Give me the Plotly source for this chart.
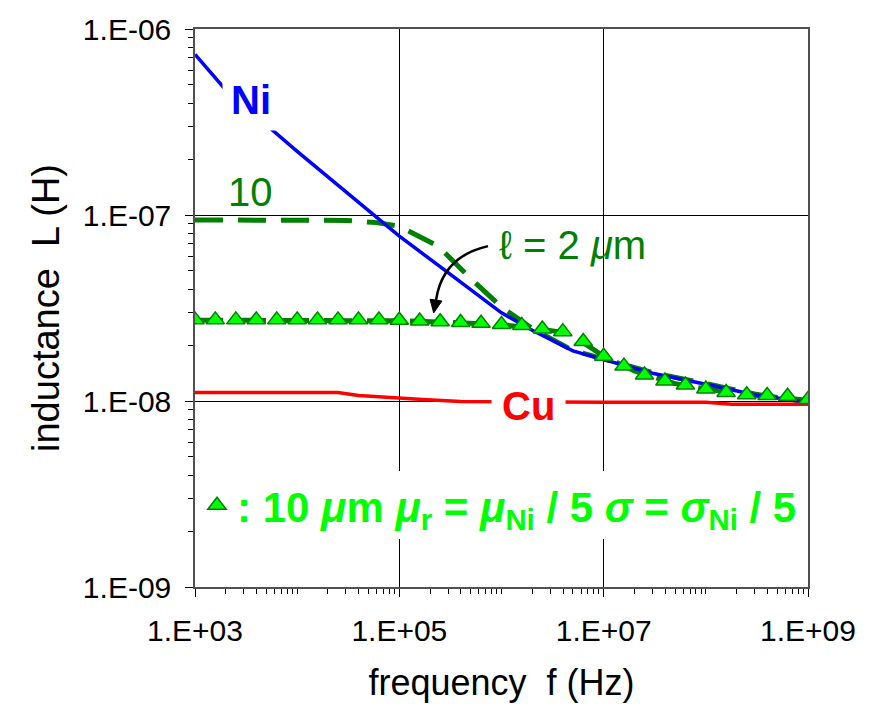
import plotly.graph_objects as go

# ---- data: inductance vs frequency ----
# Ni (bulk)
freq_ni = [1e3, 2e3, 1e4, 1e5, 3e5, 1e6, 2e6, 5e6, 1e7, 3e7, 1e8, 3e8, 1e9]
L_ni = [7.3e-7, 4.7e-7, 2.2e-7, 7.7e-8, 4.9e-8, 2.98e-8, 2.4e-8, 1.86e-8,
        1.67e-8, 1.41e-8, 1.23e-8, 1.08e-8, 9.8e-9]

# Cu
freq_cu = [1e3, 1e4, 2.5e4, 4e4, 1e5, 1.7e5, 4e5, 1e6, 1e7, 1e8, 1.8e8, 1e9]
L_cu = [1.11e-8, 1.11e-8, 1.11e-8, 1.07e-8, 1.045e-8, 1.02e-8, 9.95e-9,
        9.9e-9, 9.85e-9, 9.85e-9, 9.6e-9, 9.6e-9]

# Ni layer, thickness 10 um
freq_10 = [1e3, 1e4, 3e4, 6e4, 1e5, 2.4e5, 5e5, 1e6, 2e6, 5e6, 1e7, 3e7,
           1e8, 3e8, 1e9]
L_10 = [9.4e-8, 9.4e-8, 9.35e-8, 9.1e-8, 8.7e-8, 6.8e-8, 4.55e-8, 3.2e-8,
        2.45e-8, 1.87e-8, 1.68e-8, 1.42e-8, 1.24e-8, 1.09e-8, 9.9e-9]

# Ni layer, thickness 2 um
freq_2 = [1e3, 1e4, 1e5, 3e5, 1e6, 2e6, 4e6, 6e6, 1e7, 2e7, 5e7, 1e8,
          3e8, 1e9]
L_2 = [2.72e-8, 2.72e-8, 2.7e-8, 2.65e-8, 2.57e-8, 2.47e-8, 2.34e-8,
       2.1e-8, 1.74e-8, 1.45e-8, 1.24e-8, 1.16e-8, 1.07e-8, 1.01e-8]

# 10 um layer with mu_r = mu_Ni/5, sigma = sigma_Ni/5
freq_tri = [1.0e3, 1.58e3, 2.51e3, 3.98e3, 6.31e3,
            1.0e4, 1.58e4, 2.51e4, 3.98e4, 6.31e4,
            1.0e5, 1.58e5, 2.51e5, 3.98e5, 6.31e5,
            1.0e6, 1.58e6, 2.51e6, 3.98e6, 6.31e6,
            1.0e7, 1.58e7, 2.51e7, 3.98e7, 6.31e7,
            1.0e8, 1.58e8, 2.51e8, 3.98e8, 6.31e8,
            1.0e9]
L_tri = [2.73e-8, 2.73e-8, 2.73e-8, 2.73e-8, 2.73e-8,
         2.73e-8, 2.73e-8, 2.73e-8, 2.73e-8, 2.73e-8,
         2.72e-8, 2.69e-8, 2.67e-8, 2.64e-8, 2.62e-8,
         2.58e-8, 2.55e-8, 2.44e-8, 2.36e-8, 2.09e-8,
         1.74e-8, 1.54e-8, 1.38e-8, 1.28e-8, 1.22e-8,
         1.16e-8, 1.11e-8, 1.08e-8, 1.07e-8, 1.06e-8,
         1.02e-8]

x_tickvals = [1e3, 1e5, 1e7, 1e9]
x_ticktext = ["1.E+03", "1.E+05", "1.E+07", "1.E+09"]
y_tickvals = [1e-9, 1e-8, 1e-7, 1e-6]
y_ticktext = ["1.E-09", "1.E-08", "1.E-07", "1.E-06"]

# ---- styling ----
W, H = 874, 708
ML, MR, MT, MB = 195, 66, 20, 120
PW, PH = W - ML - MR, H - MT - MB
FONT = "Arial, Liberation Sans, sans-serif"
BLUE, RED, DKGREEN, LIME = "#0000FF", "#FF0000", "#008000", "#00FF00"
DASH = "28px,15px"


def paper(xp, yp):
    """pixel position on the page -> paper coordinates"""
    return (xp - ML) / PW, (H - MB - yp) / PH


fig = go.Figure()

fig.add_trace(go.Scatter(x=freq_10, y=L_10, mode="lines", showlegend=False,
                         line=dict(color=DKGREEN, width=5, dash=DASH)))
fig.add_trace(go.Scatter(x=freq_2, y=L_2, mode="lines", showlegend=False,
                         line=dict(color=DKGREEN, width=5, dash=DASH)))
fig.add_trace(go.Scatter(x=freq_ni, y=L_ni, mode="lines", showlegend=False,
                         line=dict(color=BLUE, width=3.5)))
fig.add_trace(go.Scatter(x=freq_cu, y=L_cu, mode="lines", showlegend=False,
                         line=dict(color=RED, width=3.5)))
fig.add_trace(go.Scatter(
    x=freq_tri, y=L_tri, mode="markers", showlegend=True,
    name=("<b>: 10 <i>μ</i>m <i>μ</i><sub>r</sub> = <i>μ</i><sub>Ni</sub> / 5 "
          "<i>σ</i> = <i>σ</i><sub>Ni</sub> / 5</b>"),
    marker=dict(symbol="triangle-up", size=16, color=LIME,
                line=dict(color=DKGREEN, width=1.5))))

# ---- text labels ----
def label(xp, yp, text, color, size, bold=False, bg=None, pad=0):
    px_, py_ = paper(xp, yp)
    fig.add_annotation(
        x=px_, y=py_, xref="paper", yref="paper", showarrow=False,
        text=f"<b>{text}</b>" if bold else text,
        font=dict(family=FONT, size=size, color=color),
        bgcolor=bg if bg else "rgba(0,0,0,0)", borderpad=pad,
        xanchor="center", yanchor="middle")


label(251, 92, "Ni", BLUE, 40, bold=True, bg="white", pad=8)
label(528, 404, "Cu", RED, 40, bold=True, bg="white", pad=10)
label(250, 186, "10", DKGREEN, 40)
label(572, 240, "ℓ = 2 <i>μ</i>m", DKGREEN, 40)

# curved arrow pointing at the 2 um curve
p0 = paper(488, 241)
c1 = paper(462, 247)
c2 = paper(441, 262)
p1 = paper(436, 296)
fig.add_shape(type="path", xref="paper", yref="paper",
              path=f"M {p0[0]},{p0[1]} C {c1[0]},{c1[1]} {c2[0]},{c2[1]} {p1[0]},{p1[1]}",
              line=dict(color="black", width=2.5))
h0 = paper(433.7, 309)
h1 = paper(441.9, 296.9)
h2 = paper(430.1, 295.1)
fig.add_shape(type="path", xref="paper", yref="paper",
              path=f"M {h0[0]},{h0[1]} L {h1[0]},{h1[1]} L {h2[0]},{h2[1]} Z",
              fillcolor="black", line=dict(color="black", width=1))

lx, ly = paper(197, 505)

axis_common = dict(
    type="log", showline=True, mirror=True, linecolor="#505050", linewidth=1.5,
    showgrid=True, gridcolor="black", gridwidth=1, zeroline=False,
    ticks="outside", ticklen=8, tickcolor="black", tickwidth=1,
    tickfont=dict(family=FONT, size=30, color="black"),
    minor=dict(ticks="outside", ticklen=5, tickcolor="black", dtick="D1",
               showgrid=False),
)

fig.update_layout(
    width=W, height=H,
    margin=dict(l=ML, r=MR, t=MT, b=MB),
    paper_bgcolor="white", plot_bgcolor="white",
    font=dict(family=FONT, color="black"),
    xaxis=dict(axis_common, range=[3, 9], tickmode="array",
               tickvals=x_tickvals, ticktext=x_ticktext, ticklabelstandoff=8,
               title=dict(text="frequency  f (Hz)", standoff=24,
                          font=dict(family=FONT, size=36, color="black"))),
    yaxis=dict(axis_common, range=[-9, -6], tickmode="array",
               tickvals=y_tickvals, ticktext=y_ticktext, ticklabelstandoff=8,
               title=dict(text="inductance  L (H)", standoff=12,
                          font=dict(family=FONT, size=38, color="black"))),
    legend=dict(x=lx, y=ly, xanchor="left", yanchor="middle",
                bgcolor="white", borderwidth=0,
                font=dict(family=FONT, size=42, color=LIME),
                itemsizing="trace"),
)

fig.write_html("out.html")
